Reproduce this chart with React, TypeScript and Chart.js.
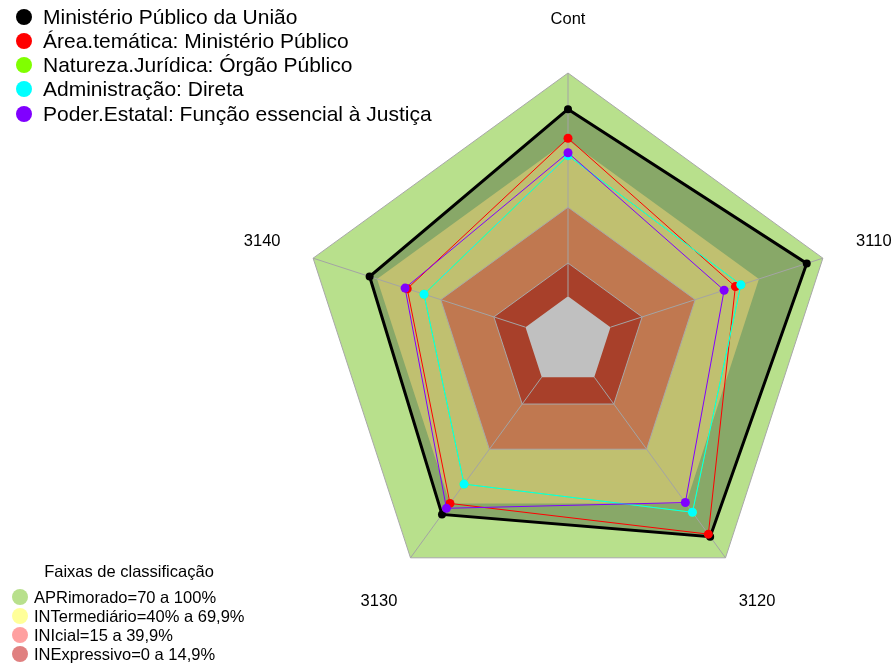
import React, { useEffect, useRef } from 'react';
import { Chart, registerables } from 'chart.js';

Chart.register(...registerables);

// ---- Data ----
const categories = ['Cont', '3110', '3120', '3130', '3140'];

const mpuValues = [83.8, 92.4, 88.3, 76.0, 73.4];
const areaTematicaValues = [70.8, 58.8, 86.9, 69.9, 55.7];
const naturezaJuridicaValues = [63.0, 61.4, 74.8, 59.2, 47.8];
const administracaoValues = [63.0, 61.4, 74.8, 59.2, 47.8];
const poderEstatalValues = [64.3, 53.5, 69.4, 72.6, 56.7];

const seriesNames = [
  'Ministério Público da União',
  'Área.temática: Ministério Público',
  'Natureza.Jurídica: Órgão Público',
  'Administração: Direta',
  'Poder.Estatal: Função essencial à Justiça',
];
const seriesColors = ['#000000', '#ff0000', '#80ff00', '#00ffff', '#8000ff'];

// classification band upper limits (outer to inner)
const bandLimits = [100, 69.9, 39.9, 14.9, 0];
const bandFills = ['#b8e08c', '#c0c070', '#c07850', '#a8402a', '#c0c0c0'];

const bandLegendTitle = 'Faixas de classificação';
const bandLegendLabels = [
  'APRimorado=70 a 100%',
  'INTermediário=40% a 69,9%',
  'INIcial=15 a 39,9%',
  'INExpressivo=0 a 14,9%',
];
const bandLegendColors = ['#b8e08c', '#ffff99', '#ffa0a0', '#e08080'];

const scaleMin = -20;
const scaleMax = 100;

const FONT = '"Liberation Sans", Arial, Helvetica, sans-serif';

const radarDecor = {
  id: 'radarDecor',
  beforeDatasetDraw(chart: any, args: any) {
    const ds = chart.data.datasets[args.index];
    if (ds.label !== seriesNames[0]) return;
    const s = chart.scales.r;
    const ctx = chart.ctx;
    ctx.save();
    ctx.strokeStyle = '#a4a4a4';
    ctx.lineWidth = 1;
    for (let i = 0; i < categories.length; i++) {
      const a = s.getPointPositionForValue(i, 0);
      const b = s.getPointPositionForValue(i, scaleMax);
      ctx.beginPath();
      ctx.moveTo(a.x, a.y);
      ctx.lineTo(b.x, b.y);
      ctx.stroke();
    }
    ctx.restore();
  },
  afterDraw(chart: any) {
    const s = chart.scales.r;
    const ctx = chart.ctx;
    ctx.save();
    ctx.fillStyle = '#000';
    ctx.font = `16.5px ${FONT}`;
    ctx.textAlign = 'center';
    ctx.textBaseline = 'middle';
    for (let i = 0; i < categories.length; i++) {
      const p = s.getPointPosition(i, s.drawingArea * 1.2);
      ctx.fillText(categories[i], p.x, p.y);
    }
    ctx.restore();
  },
};

export default function App() {
  const canvasRef = useRef<HTMLCanvasElement | null>(null);

  useEffect(() => {
    const canvas = canvasRef.current;
    if (!canvas) return;

    const bandDataset = (limit: number, idx: number) => ({
      label: 'band' + limit,
      data: categories.map(() => limit),
      backgroundColor: bandFills[idx],
      borderColor: idx === 0 || idx === 2 || idx === 3 ? '#a8a8a8' : bandFills[idx],
      borderWidth: idx === 1 || idx === 4 ? 0 : 1,
      fill: 'start',
      pointRadius: 0,
      order: 30 - idx * 2,
    });

    const series = [mpuValues, areaTematicaValues, naturezaJuridicaValues, administracaoValues, poderEstatalValues];

    const datasets: any[] = [
      bandDataset(bandLimits[0], 0),
      {
        label: 'mpuFill',
        data: mpuValues,
        backgroundColor: '#88a868',
        borderWidth: 0,
        fill: 'start',
        pointRadius: 0,
        order: 29,
      },
      bandDataset(bandLimits[1], 1),
      bandDataset(bandLimits[2], 2),
      bandDataset(bandLimits[3], 3),
      bandDataset(bandLimits[4], 4),
      ...series.map((vals, i) => ({
        label: seriesNames[i],
        data: vals,
        borderColor: seriesColors[i],
        backgroundColor: seriesColors[i],
        borderWidth: i === 0 ? 3 : 1,
        fill: false,
        pointRadius: i === 0 ? 4 : 4.5,
        pointBorderWidth: 0,
        pointBackgroundColor: seriesColors[i],
        order: 5 - i,
      })),
    ];

    const chart = new Chart(canvas, {
      type: 'radar',
      data: { labels: categories, datasets },
      options: {
        animation: false,
        responsive: false,
        devicePixelRatio: 1,
        events: [],
        layout: { padding: { left: 300, right: 58, top: 73, bottom: 61 } },
        elements: { line: { tension: 0 } },
        plugins: {
          legend: { display: false },
          tooltip: { enabled: false },
          filler: { propagate: false },
        },
        scales: {
          r: {
            min: scaleMin,
            max: scaleMax,
            ticks: { display: false },
            grid: { display: false },
            angleLines: { display: false },
            pointLabels: { display: false },
          },
        },
      },
      plugins: [radarDecor],
    } as any);

    return () => chart.destroy();
  }, []);

  const topRows = seriesNames.map((name, i) => {
    const cy = 16.7 + 24.2 * i;
    return (
      <div key={name} style={{ position: 'absolute', left: 0, top: cy - 13, height: 26, width: 470 }}>
        <span
          style={{
            position: 'absolute',
            left: 16,
            top: 5,
            width: 16,
            height: 16,
            borderRadius: '50%',
            background: seriesColors[i],
          }}
        />
        <span
          style={{
            position: 'absolute',
            left: 43,
            top: 0,
            lineHeight: '26px',
            fontSize: 21,
            fontFamily: FONT,
            color: '#000',
            whiteSpace: 'nowrap',
          }}
        >
          {name}
        </span>
      </div>
    );
  });

  const bottomRows = bandLegendLabels.map((lab, i) => {
    const cy = 597 + 19 * i;
    return (
      <div key={lab} style={{ position: 'absolute', left: 0, top: cy - 10, height: 20, width: 300 }}>
        <span
          style={{
            position: 'absolute',
            left: 12,
            top: 2,
            width: 16,
            height: 16,
            borderRadius: '50%',
            background: bandLegendColors[i],
          }}
        />
        <span
          style={{
            position: 'absolute',
            left: 34,
            top: 0,
            lineHeight: '20px',
            fontSize: 16.5,
            fontFamily: FONT,
            color: '#000',
            whiteSpace: 'nowrap',
          }}
        >
          {lab}
        </span>
      </div>
    );
  });

  return (
    <div style={{ position: 'absolute', left: 0, top: 0, width: 894, height: 670, background: '#fff', overflow: 'hidden' }}>
      <canvas ref={canvasRef} width={894} height={670} style={{ position: 'absolute', left: 0, top: 0 }} />
      {topRows}
      <div
        style={{
          position: 'absolute',
          left: 29,
          width: 200,
          top: 561,
          lineHeight: '20px',
          textAlign: 'center',
          fontSize: 16.5,
          fontFamily: FONT,
          color: '#000',
          whiteSpace: 'nowrap',
        }}
      >
        {bandLegendTitle}
      </div>
      {bottomRows}
    </div>
  );
}
